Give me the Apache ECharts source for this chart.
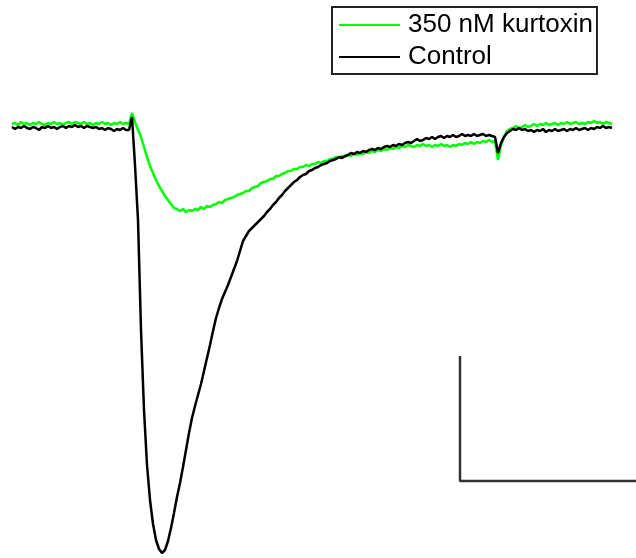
<!DOCTYPE html>
<html>
<head>
<meta charset="utf-8">
<title>Kurtoxin current traces</title>
<script src="https://cdn.jsdelivr.net/npm/echarts@6/dist/echarts.min.js"></script>
<style>
  html, body { margin: 0; padding: 0; background: #fff; }
  #chart { width: 636px; height: 558px; }
</style>
</head>
<body>
<div id="chart"></div>
<script>
// sampling step of the traces (ms)
const dt = 0.75;

// current (pA), control
const controlCurrent = [
  4, -4, 4, 0, 8, 0, -4, 4, 0, -8,
  4, 0, 8, 0, 4, -4, 4, 8, 0, 8,
  4, 12, 4, 8, 0, 8, 4, 0, 4, -4,
  0, -8, 0, -4, -12, -4, -8, 0, -8, -8,
  44, -148, -368, -808, -1128, -1348, -1488, -1584, -1648, -1684,
  -1700, -1688, -1652, -1600, -1540, -1476, -1420, -1356, -1288, -1220,
  -1160, -1112, -1068, -1024, -972, -920, -868, -812, -760, -720,
  -684, -656, -628, -596, -564, -532, -492, -452, -432, -412,
  -400, -388, -376, -364, -352, -336, -324, -308, -296, -280,
  -268, -252, -240, -228, -216, -208, -196, -188, -184, -172,
  -168, -160, -156, -148, -144, -140, -132, -128, -124, -116,
  -120, -112, -108, -100, -104, -96, -100, -92, -96, -88,
  -84, -88, -80, -84, -76, -72, -76, -68, -72, -64,
  -68, -60, -56, -60, -52, -44, -52, -48, -40, -44,
  -36, -44, -36, -32, -40, -32, -36, -28, -36, -32,
  -24, -32, -28, -32, -24, -32, -28, -24, -32, -28,
  -32, -36, -100, -60, -36, -20, -12, -4, -8, 0,
  -8, -4, -12, -8, -16, -8, -12, -4, -16, -8,
  -12, -4, -12, -8, -4, -12, -4, -8, 0, -8,
  -4, 0, -8, 0, -4, 4, 0, 8, 0, 4,
  0
];

// current (pA), 350 nM kurtoxin
const kurtoxinCurrent = [
  16, 20, 12, 24, 16, 20, 12, 20, 16, 24,
  16, 12, 20, 16, 24, 16, 20, 12, 20, 24,
  16, 24, 20, 16, 24, 16, 20, 12, 20, 16,
  24, 16, 20, 12, 20, 16, 24, 16, 20, 16,
  60, 24, -8, -36, -76, -116, -152, -180, -208, -232,
  -252, -272, -288, -304, -320, -324, -332, -324, -336, -328,
  -332, -324, -328, -316, -324, -312, -316, -308, -304, -296,
  -300, -288, -284, -280, -276, -268, -264, -260, -252, -252,
  -240, -236, -232, -220, -216, -212, -204, -204, -192, -192,
  -184, -180, -172, -172, -164, -164, -156, -156, -148, -152,
  -144, -144, -136, -140, -132, -132, -124, -124, -116, -120,
  -112, -116, -108, -112, -104, -108, -100, -104, -96, -100,
  -92, -96, -88, -92, -84, -88, -80, -84, -76, -80,
  -72, -76, -68, -72, -76, -68, -72, -64, -72, -68,
  -76, -68, -72, -64, -72, -68, -76, -68, -72, -64,
  -68, -60, -64, -56, -64, -56, -60, -52, -56, -48,
  -56, -52, -128, -68, -36, -12, -4, 0, 8, 0,
  4, 12, 4, 8, 16, 8, 16, 12, 20, 12,
  16, 20, 12, 20, 16, 24, 16, 20, 24, 16,
  20, 16, 24, 20, 28, 20, 24, 16, 24, 20,
  16
];

// scale bar: 500 pA / 50 ms
const scaleTime = [112, 112, 162];
const scaleCurrent = [-912, -1412, -1412];

const seriesNames = ["350 nM kurtoxin", "Control"];

const toPoints = (values) => values.map((v, i) => [i * dt, v]);

const chart = echarts.init(document.getElementById("chart"), null, { renderer: "canvas" });

chart.setOption({
  animation: false,
  backgroundColor: "#fff",
  grid: { left: 0, right: 0, top: 0, bottom: 0 },
  xAxis: {
    type: "value",
    min: -3,
    max: 156,
    show: false,
  },
  yAxis: {
    type: "value",
    min: -1720,
    max: 512,
    show: false,
  },
  legend: {
    data: seriesNames,
    orient: "vertical",
    left: 332,
    top: 7,
    padding: [5, 4, 4, 7],
    itemGap: 6,
    icon: "rect",
    itemWidth: 61,
    itemHeight: 2,
    borderColor: "#222",
    borderWidth: 2,
    borderRadius: 0,
    selectedMode: false,
    textStyle: {
      fontFamily: "Liberation Sans",
      fontSize: 26,
      color: "#000",
      padding: [0, 0, 0, 3],
    },
  },
  series: [
    {
      name: seriesNames[0],
      type: "line",
      data: toPoints(kurtoxinCurrent),
      symbol: "none",
      lineStyle: { color: "#00ff00", width: 2.5 },
      itemStyle: { color: "#00ff00" },
      z: 2,
    },
    {
      name: seriesNames[1],
      type: "line",
      data: toPoints(controlCurrent),
      symbol: "none",
      lineStyle: { color: "#000", width: 2.5 },
      itemStyle: { color: "#000" },
      z: 3,
    },
    {
      name: "scale",
      type: "line",
      data: scaleTime.map((t, i) => [t, scaleCurrent[i]]),
      symbol: "none",
      lineStyle: { color: "#333", width: 2.5 },
      silent: true,
      clip: true,
    },
  ],
});
</script>
</body>
</html>
